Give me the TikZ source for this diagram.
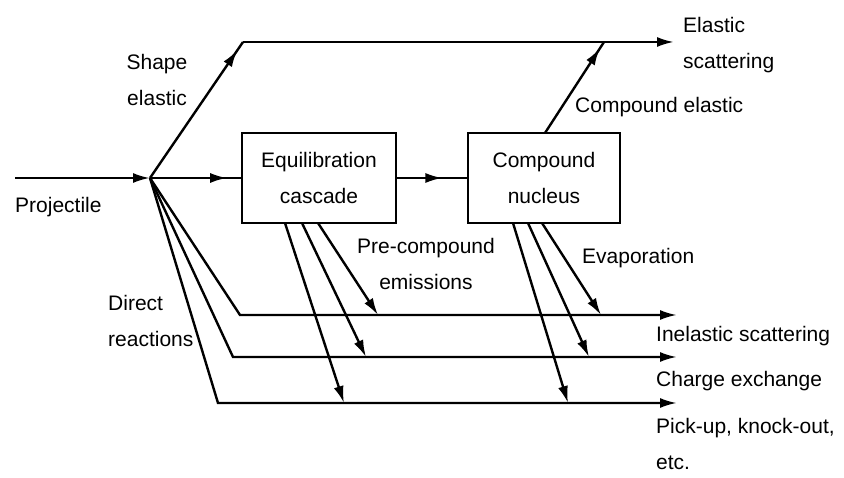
\documentclass[tikz,border=0pt]{standalone}
\usepackage{fontspec}
\setmainfont{Liberation Sans}
\usetikzlibrary{arrows.meta,decorations.markings}
\tikzset{
  ln/.style={line width=2.4pt, line join=miter},
  tip/.style={-{Latex[length=17pt,width=10pt]}},
  midarr/.style={postaction={decorate},decoration={markings,
      mark=at position #1 with {\arrow{Latex[length=17pt,width=10pt]}}}},
  box/.style={draw, line width=2.4pt, minimum width=154pt, minimum height=90pt,
      align=center, font=\fontsize{21}{36}\selectfont, inner sep=0pt},
  lbl/.style={font=\fontsize{21}{36}\selectfont, inner sep=0pt},
}
\begin{document}
\begin{tikzpicture}[x=1pt,y=-1pt]
\useasboundingbox (0,0) rectangle (844,478);
% boxes
\node[box] (eq) at (319,178) {Equilibration\\cascade};
\node[box, minimum width=152pt] (cn) at (544,178) {Compound\\nucleus};
% key points
\coordinate (p0) at (15,178);
\coordinate (sp) at (150,178);
\coordinate (t0) at (243,42);
\coordinate (t1) at (674,42);
\coordinate (ce0) at (545,133);
\coordinate (ce1) at (604,42);
\coordinate (a0) at (240,315);
\coordinate (b0) at (233,357);
\coordinate (c0) at (218,403);
\coordinate (a1) at (677,315);
\coordinate (b1) at (677,357);
\coordinate (c1) at (677,403);
\coordinate (ea) at (318,223);
\coordinate (eb) at (302,223);
\coordinate (ec) at (285,223);
\coordinate (ea1) at (378,315);
\coordinate (eb1) at (366,357);
\coordinate (ec1) at (344,403);
\coordinate (na) at (542,223);
\coordinate (nb) at (528,223);
\coordinate (nc) at (513,223);
\coordinate (na1) at (601,315);
\coordinate (nb1) at (589,357);
\coordinate (nc1) at (568,403);
% main flow
\draw[ln,tip] (p0) -- (sp);
\draw[ln,midarr=0.85] (sp) -- (eq.west);
\draw[ln,midarr=0.65] (eq.east) -- (cn.west);
% shape elastic / elastic scattering
\draw[ln,midarr=0.94] (sp) -- (t0);
\draw[ln,tip] (t0) -- (t1);
\draw[ln,midarr=0.93] (ce0) -- (ce1);
% direct reaction channels
\draw[ln,tip] (sp) -- (a0) -- (a1);
\draw[ln,tip] (sp) -- (b0) -- (b1);
\draw[ln,tip] (sp) -- (c0) -- (c1);
% pre-compound
\draw[ln,tip] (ea) -- (ea1);
\draw[ln,tip] (eb) -- (eb1);
\draw[ln,tip] (ec) -- (ec1);
% evaporation
\draw[ln,tip] (na) -- (na1);
\draw[ln,tip] (nb) -- (nb1);
\draw[ln,tip] (nc) -- (nc1);
% labels
\node[lbl, anchor=west] (lproj) at (15,207) {Projectile};
\node[lbl, align=center] (lshape) at (157,80) {Shape\\elastic};
\node[lbl, align=left, anchor=west] (lel) at (683,45) {Elastic\\scattering};
\node[lbl, anchor=west] (lce) at (575,107) {Compound elastic};
\node[lbl, align=center] (lpre) at (426,264) {Pre-compound\\emissions};
\node[lbl, anchor=west] (lev) at (582,258) {Evaporation};
\node[lbl, align=left, anchor=west] (ldir) at (108,321) {Direct\\reactions};
\node[lbl, anchor=west] (lin) at (656,336) {Inelastic scattering};
\node[lbl, anchor=west] (lch) at (656,381) {Charge exchange};
\node[lbl, align=left, anchor=west] (lpk) at (656,444) {Pick-up, knock-out,\\etc.};
\end{tikzpicture}
\end{document}
